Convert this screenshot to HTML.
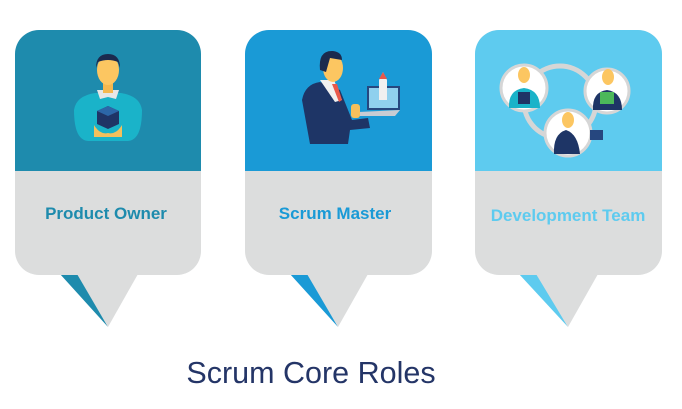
<!DOCTYPE html>
<html><head><style>
html,body{margin:0;padding:0;background:#fff;width:682px;height:409px;overflow:hidden}
svg text{font-family:"Liberation Sans",Arial,sans-serif}
</style></head><body>
<svg width="682" height="409" viewBox="0 0 682 409" xmlns="http://www.w3.org/2000/svg">
<defs>
<clipPath id="c1"><rect x="15" y="30" width="186" height="245" rx="24"/></clipPath>
<clipPath id="c2"><rect x="245" y="30" width="187" height="245" rx="24"/></clipPath>
<clipPath id="c3"><rect x="475" y="30" width="187" height="245" rx="24"/></clipPath>
</defs>

<!-- Card 1 -->
<polygon points="60,274 78,274 108,327" fill="#1e8bad"/>
<polygon points="77,274 138,274 108,327" fill="#dcdddd"/>
<g clip-path="url(#c1)">
<rect x="15" y="30" width="186" height="245" fill="#dcdddd"/>
<rect x="15" y="30" width="186" height="141" fill="#1e8bad"/>
</g>
<path d="M88 141 Q74 140 74 110 Q76 96 95 93 L121 93 Q140 96 142 110 Q142 140 128 141 Z" fill="#1ab3c9"/>
<polygon points="97,90 119,90 116,99 108,97 100,99" fill="#e6e6e6"/>
<rect x="103" y="83" width="10" height="10" fill="#f4b84f"/>
<ellipse cx="108" cy="70" rx="11" ry="15" fill="#fcc661"/>
<path d="M96 68 Q96 54 108 54 Q120 54 120 68 L118 62 Q108 58 98 62 Z" fill="#1b2a4e"/>
<polygon points="108,106 119,111 119,124 108,129 97,124 97,111" fill="#1f3466"/>
<polygon points="108,106 119,111 108,116 97,111" fill="#2c66a8"/>
<path d="M94 125 Q100 135 108 133 Q116 135 122 125 L122 137 L94 137 Z" fill="#f4c05c"/>
<text x="106" y="219" text-anchor="middle" font-size="17" font-weight="bold" fill="#1e8bad">Product Owner</text>

<!-- Card 2 -->
<polygon points="290,274 308,274 338,327" fill="#1a9ad6"/>
<polygon points="307,274 368,274 338,327" fill="#dcdddd"/>
<g clip-path="url(#c2)">
<rect x="245" y="30" width="187" height="245" fill="#dcdddd"/>
<rect x="245" y="30" width="187" height="141" fill="#1a9ad6"/>
</g>
<path d="M310 144 L302 100 Q305 84 320 82 L340 90 L352 120 L368 118 L370 128 L350 130 L348 144 Z" fill="#1e3566"/>
<polygon points="320,80 334,80 342,100 335,102" fill="#f0f0f0"/>
<polygon points="332,84 337,84 342,100 339,102" fill="#e8584a"/>
<ellipse cx="333" cy="68" rx="10" ry="14" fill="#fcc661"/>
<path d="M320 70 Q318 50 333 51 Q342 52 342 60 L330 58 L326 72 Z" fill="#1b2a4e"/>
<rect x="367" y="86" width="33" height="24" fill="#26477f"/>
<rect x="369" y="88" width="29" height="20" fill="#8fd0ee"/>
<polygon points="358,112 400,110 395,116 360,116" fill="#c8ccd3"/>
<polygon points="383,72 387,80 387,100 379,100 379,80" fill="#f0f0f0"/>
<polygon points="383,72 387,79 379,79" fill="#e8584a"/>
<rect x="351" y="104" width="9" height="14" rx="3" fill="#f4c05c"/>
<text x="335" y="219" text-anchor="middle" font-size="17" font-weight="bold" fill="#1a9ad6">Scrum Master</text>

<!-- Card 3 -->
<polygon points="519,274 537,274 568,327" fill="#5ecbef"/>
<polygon points="536,274 598,274 568,327" fill="#dcdddd"/>
<g clip-path="url(#c3)">
<rect x="475" y="30" width="187" height="245" fill="#dcdddd"/>
<rect x="475" y="30" width="187" height="141" fill="#5ecbef"/>
</g>
<circle cx="560" cy="102" r="36" fill="none" stroke="#d6d6d6" stroke-width="5"/>
<circle cx="524" cy="88" r="23" fill="#fff" stroke="#d6d6d6" stroke-width="3"/>
<circle cx="607" cy="91" r="22" fill="#fff" stroke="#d6d6d6" stroke-width="3"/>
<circle cx="568" cy="133" r="23" fill="#fff" stroke="#d6d6d6" stroke-width="3"/>
<path d="M509 108 Q508 90 524 88 Q540 90 540 108 Z" fill="#1ab3c9"/>
<ellipse cx="524" cy="75" rx="6" ry="8" fill="#fcc661"/>
<rect x="518" y="92" width="12" height="12" fill="#1f3466"/>
<path d="M593 110 Q592 92 607 90 Q622 92 622 110 Z" fill="#1e3566"/>
<ellipse cx="608" cy="77" rx="6" ry="8" fill="#fcc661"/>
<rect x="600" y="92" width="14" height="12" fill="#4cb85a"/>
<path d="M554 154 Q553 134 566 130 Q578 134 580 154 Z" fill="#1e3566"/>
<ellipse cx="568" cy="120" rx="6" ry="8" fill="#fcc661"/>
<rect x="590" y="130" width="13" height="10" fill="#26477f"/>
<text x="568" y="221" text-anchor="middle" font-size="17" font-weight="bold" fill="#5ecbef">Development Team</text>

<text x="311" y="383" text-anchor="middle" font-size="30.5" fill="#243567">Scrum Core Roles</text>
</svg>
</body></html>
